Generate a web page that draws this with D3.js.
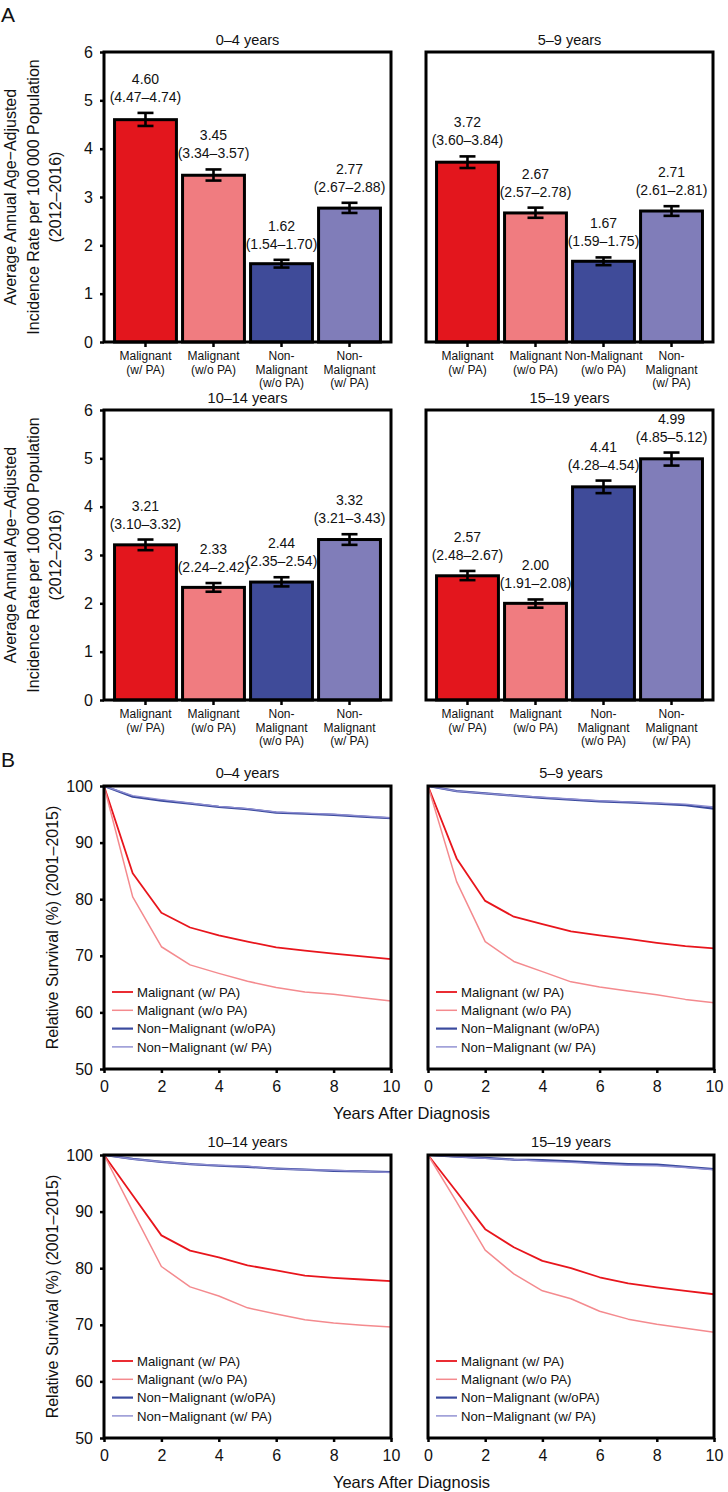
<!DOCTYPE html>
<html><head><meta charset="utf-8">
<script src="https://cdn.jsdelivr.net/npm/d3@7"></script>
<style>
body{margin:0;background:#fff}
text{font-family:"Liberation Sans",Arial,Helvetica,sans-serif;fill:#111}
</style>
</head><body>
<svg id="c" width="728" height="1492"></svg>
<script>
// ---------- DATA ----------
const categories = ["Malignant (w/ PA)", "Malignant (w/o PA)", "Non-Malignant (w/o PA)", "Non-Malignant (w/ PA)"];
const barColors = ["#E3161D", "#F07C80", "#3F4B99", "#807DB9"];
const ageGroups = ["0–4 years", "5–9 years", "10–14 years", "15–19 years"];
const catLabelLines = [["Malignant", "(w/ PA)"], ["Malignant", "(w/o PA)"], ["Non-", "Malignant", "(w/o PA)"], ["Non-", "Malignant", "(w/ PA)"]];
const catLabelLinesWide = [["Malignant", "(w/ PA)"], ["Malignant", "(w/o PA)"], ["Non-Malignant", "(w/o PA)"], ["Non-", "Malignant", "(w/ PA)"]];
const rateTicks = [0, 1, 2, 3, 4, 5, 6];

const rate_0_4 = [4.60, 3.45, 1.62, 2.77];
const low_0_4 = [4.47, 3.34, 1.54, 2.67];
const high_0_4 = [4.74, 3.57, 1.70, 2.88];
const rate_5_9 = [3.72, 2.67, 1.67, 2.71];
const low_5_9 = [3.60, 2.57, 1.59, 2.61];
const high_5_9 = [3.84, 2.78, 1.75, 2.81];
const rate_10_14 = [3.21, 2.33, 2.44, 3.32];
const low_10_14 = [3.10, 2.24, 2.35, 3.21];
const high_10_14 = [3.32, 2.42, 2.54, 3.43];
const rate_15_19 = [2.57, 2.00, 4.41, 4.99];
const low_15_19 = [2.48, 1.91, 4.28, 4.85];
const high_15_19 = [2.67, 2.08, 4.54, 5.12];

const seriesNames = ["Malignant (w/ PA)", "Malignant (w/o PA)", "Non\u2212Malignant (w/oPA)", "Non\u2212Malignant (w/ PA)"];
const lineColors = ["#E8151C", "#F48A8E", "#3A4A9E", "#8B8BD0"];
const years = [0, 1, 2, 3, 4, 5, 6, 7, 8, 9, 10];
const survTicksY = [50, 60, 70, 80, 90, 100];
const survTicksX = [0, 2, 4, 6, 8, 10];

const surv_0_4_malPA = [100, 84.6, 77.6, 75.0, 73.6, 72.5, 71.5, 70.9, 70.4, 69.9, 69.4];
const surv_0_4_malNoPA = [100, 80.4, 71.6, 68.4, 66.9, 65.5, 64.4, 63.6, 63.2, 62.6, 62.0];
const surv_0_4_nonNoPA = [100, 98.1, 97.4, 96.9, 96.3, 95.9, 95.3, 95.1, 94.9, 94.6, 94.3];
const surv_0_4_nonPA = [100, 98.3, 97.6, 97.0, 96.4, 96.0, 95.4, 95.2, 95.0, 94.7, 94.4];

const surv_5_9_malPA = [100, 87.2, 79.7, 76.9, 75.6, 74.3, 73.6, 73.0, 72.3, 71.7, 71.3];
const surv_5_9_malNoPA = [100, 83.1, 72.5, 69.0, 67.2, 65.4, 64.5, 63.8, 63.1, 62.3, 61.7];
const surv_5_9_nonNoPA = [100, 99.1, 98.7, 98.3, 97.9, 97.6, 97.3, 97.1, 96.9, 96.6, 96.0];
const surv_5_9_nonPA = [100, 99.1, 98.7, 98.3, 98.0, 97.7, 97.4, 97.2, 97.0, 96.8, 96.3];

const surv_10_14_malPA = [100, 92.9, 85.8, 83.1, 81.9, 80.5, 79.6, 78.7, 78.3, 78.0, 77.7];
const surv_10_14_malNoPA = [100, 90.1, 80.3, 76.7, 75.1, 73.0, 71.9, 70.9, 70.3, 69.9, 69.6];
const surv_10_14_nonNoPA = [100, 99.3, 98.8, 98.4, 98.1, 97.9, 97.6, 97.4, 97.2, 97.1, 97.0];
const surv_10_14_nonPA = [100, 99.3, 98.8, 98.4, 98.2, 98.0, 97.6, 97.4, 97.3, 97.1, 96.9];

const surv_15_19_malPA = [100, 93.5, 86.9, 83.7, 81.3, 80.0, 78.4, 77.3, 76.6, 76.0, 75.4];
const surv_15_19_malNoPA = [100, 91.7, 83.2, 79.0, 76.0, 74.6, 72.4, 71.0, 70.1, 69.4, 68.7];
const surv_15_19_nonNoPA = [100, 99.7, 99.5, 99.2, 99.1, 98.9, 98.6, 98.4, 98.3, 97.9, 97.5];
const surv_15_19_nonPA = [100, 99.7, 99.4, 99.2, 98.9, 98.7, 98.4, 98.2, 98.1, 97.8, 97.4];

// ---------- BUILD ----------
const barPanels = [
  {title: ageGroups[0], rate: rate_0_4, low: low_0_4, high: high_0_4, labels: catLabelLines},
  {title: ageGroups[1], rate: rate_5_9, low: low_5_9, high: high_5_9, labels: catLabelLinesWide},
  {title: ageGroups[2], rate: rate_10_14, low: low_10_14, high: high_10_14, labels: catLabelLines},
  {title: ageGroups[3], rate: rate_15_19, low: low_15_19, high: high_15_19, labels: catLabelLines}
];
const survPanels = [
  {title: ageGroups[0], series: [surv_0_4_malPA, surv_0_4_malNoPA, surv_0_4_nonNoPA, surv_0_4_nonPA]},
  {title: ageGroups[1], series: [surv_5_9_malPA, surv_5_9_malNoPA, surv_5_9_nonNoPA, surv_5_9_nonPA]},
  {title: ageGroups[2], series: [surv_10_14_malPA, surv_10_14_malNoPA, surv_10_14_nonNoPA, surv_10_14_nonPA]},
  {title: ageGroups[3], series: [surv_15_19_malPA, surv_15_19_malNoPA, surv_15_19_nonNoPA, surv_15_19_nonPA]}
];

const svg = d3.select("#c");
const FONT = '"Liberation Sans",Arial,Helvetica,sans-serif';
const fmtInt = d3.format("d");

// panel letters
svg.append("text").attr("x", 1).attr("y", 22).attr("font-size", 21).text("A");
svg.append("text").attr("x", 1).attr("y", 767).attr("font-size", 21).text("B");

const barBoxes = [
  {x0: 104, x1: 391, y0: 52, y1: 342},
  {x0: 426, x1: 713, y0: 52, y1: 342},
  {x0: 104, x1: 391, y0: 410, y1: 700},
  {x0: 426, x1: 713, y0: 410, y1: 700}
];

barPanels.forEach((p, i) => {
  const b = barBoxes[i];
  const g = svg.append("g");
  const x = d3.scaleBand().domain(categories).range([b.x0, b.x1]).paddingInner(0.09).paddingOuter(0.155);
  const y = d3.scaleLinear().domain([0, 6]).range([b.y1, b.y0]);
  const left = (i % 2 === 0);

  // title
  g.append("text").attr("x", (b.x0 + b.x1) / 2).attr("y", b.y0 - 7)
    .attr("text-anchor", "middle").attr("font-size", 14.5).text(p.title);

  // bars
  g.selectAll("rect.bar").data(categories).join("rect").attr("class", "bar")
    .attr("x", d => x(d)).attr("width", x.bandwidth())
    .attr("y", (d, k) => y(p.rate[k])).attr("height", (d, k) => y(0) - y(p.rate[k]))
    .attr("fill", (d, k) => barColors[k]).attr("stroke", "#000").attr("stroke-width", 3);

  // error bars + value labels
  categories.forEach((c, k) => {
    const cx = x(c) + x.bandwidth() / 2;
    const eg = g.append("g").attr("stroke", "#000").attr("stroke-width", 2.6);
    eg.append("line").attr("x1", cx).attr("x2", cx).attr("y1", y(p.low[k])).attr("y2", y(p.high[k]));
    eg.append("line").attr("x1", cx - 8).attr("x2", cx + 8).attr("y1", y(p.low[k])).attr("y2", y(p.low[k]));
    eg.append("line").attr("x1", cx - 8).attr("x2", cx + 8).attr("y1", y(p.high[k])).attr("y2", y(p.high[k]));
    const ly = y(p.high[k]) - 11;
    g.append("text").attr("x", cx).attr("y", ly).attr("text-anchor", "middle").attr("font-size", 14)
      .text("(" + p.low[k].toFixed(2) + "–" + p.high[k].toFixed(2) + ")");
    g.append("text").attr("x", cx).attr("y", ly - 18).attr("text-anchor", "middle").attr("font-size", 14)
      .text(p.rate[k].toFixed(2));
  });

  // box
  g.append("rect").attr("x", b.x0).attr("y", b.y0).attr("width", b.x1 - b.x0).attr("height", b.y1 - b.y0)
    .attr("fill", "none").attr("stroke", "#000").attr("stroke-width", 3);

  // x axis ticks + labels
  const xa = g.append("g").attr("transform", `translate(0,${b.y1})`)
    .call(d3.axisBottom(x).tickSize(5).tickFormat(""));
  xa.select(".domain").remove();
  xa.selectAll("line").attr("stroke-width", 2.5);
  categories.forEach((c, k) => {
    const cx = x(c) + x.bandwidth() / 2;
    const t = g.append("text").attr("text-anchor", "middle").attr("font-size", 12);
    p.labels[k].forEach((ln, m) => {
      t.append("tspan").attr("x", cx).attr("y", b.y1 + 18 + m * 13.5).text(ln);
    });
  });

  if (left) {
    const ya = g.append("g").attr("transform", `translate(${b.x0},0)`)
      .call(d3.axisLeft(y).tickValues(rateTicks).tickFormat(fmtInt).tickSize(4).tickPadding(7));
    ya.select(".domain").remove();
    ya.selectAll("line").attr("stroke-width", 2.5);
    ya.selectAll("text").attr("font-size", 16).attr("font-family", FONT).attr("fill", "#111");
    const cy = (b.y0 + b.y1) / 2;
    const lines = ["Average Annual Age\u2212Adjusted", "Incidence Rate per 100\u2009000 Population", "(2012\u20132016)"];
    const offs = [94, 71, 49];
    lines.forEach((ln, m) => {
      g.append("text").attr("transform", `translate(${b.x0 - offs[m]},${cy}) rotate(-90)`)
        .attr("text-anchor", "middle").attr("dy", "0.35em").attr("font-size", 16).text(ln);
    });
  }
});

const survBoxes = [
  {x0: 104, x1: 391, y0: 786, y1: 1069},
  {x0: 428, x1: 714, y0: 786, y1: 1069},
  {x0: 104, x1: 391, y0: 1155, y1: 1438},
  {x0: 428, x1: 714, y0: 1155, y1: 1438}
];
const lineWidths = [1.8, 1.5, 2.2, 1.4];

survPanels.forEach((p, i) => {
  const b = survBoxes[i];
  const g = svg.append("g");
  const x = d3.scaleLinear().domain([0, 10]).range([b.x0, b.x1]);
  const y = d3.scaleLinear().domain([50, 100]).range([b.y1, b.y0]);
  const left = (i % 2 === 0);

  g.append("text").attr("x", (b.x0 + b.x1) / 2).attr("y", b.y0 - 8)
    .attr("text-anchor", "middle").attr("font-size", 14.5).text(p.title);

  const line = d3.line().x((d, k) => x(years[k])).y(d => y(d));
  [0, 1, 2, 3].forEach(s => {
    g.append("path").attr("d", line(p.series[s])).attr("fill", "none")
      .attr("stroke", lineColors[s]).attr("stroke-width", lineWidths[s]).attr("stroke-linejoin", "round");
  });

  // legend
  const lg = g.append("g");
  seriesNames.forEach((n, s) => {
    const ly = b.y0 + 206 + s * 18.3;
    lg.append("line").attr("x1", b.x0 + 8).attr("x2", b.x0 + 29).attr("y1", ly).attr("y2", ly)
      .attr("stroke", lineColors[s]).attr("stroke-width", lineWidths[s]);
    lg.append("text").attr("x", b.x0 + 33).attr("y", ly).attr("dy", "0.35em").attr("font-size", 13.2).text(n);
  });

  g.append("rect").attr("x", b.x0).attr("y", b.y0).attr("width", b.x1 - b.x0).attr("height", b.y1 - b.y0)
    .attr("fill", "none").attr("stroke", "#000").attr("stroke-width", 3);

  const xa = g.append("g").attr("transform", `translate(0,${b.y1})`)
    .call(d3.axisBottom(x).tickValues(survTicksX).tickFormat(fmtInt).tickSize(4).tickPadding(8));
  xa.select(".domain").remove();
  xa.selectAll("line").attr("stroke-width", 2.5);
  xa.selectAll("text").attr("font-size", 16).attr("font-family", FONT).attr("fill", "#111");

  if (left) {
    const ya = g.append("g").attr("transform", `translate(${b.x0},0)`)
      .call(d3.axisLeft(y).tickValues(survTicksY).tickFormat(fmtInt).tickSize(4).tickPadding(7));
    ya.select(".domain").remove();
    ya.selectAll("line").attr("stroke-width", 2.5);
    ya.selectAll("text").attr("font-size", 16).attr("font-family", FONT).attr("fill", "#111");
    g.append("text").attr("transform", `translate(${b.x0 - 52},${(b.y0 + b.y1) / 2}) rotate(-90)`)
      .attr("text-anchor", "middle").attr("dy", "0.35em").attr("font-size", 16)
      .text("Relative Survival (%) (2001\u20132015)");
    g.append("text").attr("x", (b.x1 + survBoxes[i + 1].x0) / 2 + 2).attr("y", b.y1 + 50)
      .attr("text-anchor", "middle").attr("font-size", 16.5).text("Years After Diagnosis");
  }
});
</script>
</body></html>
